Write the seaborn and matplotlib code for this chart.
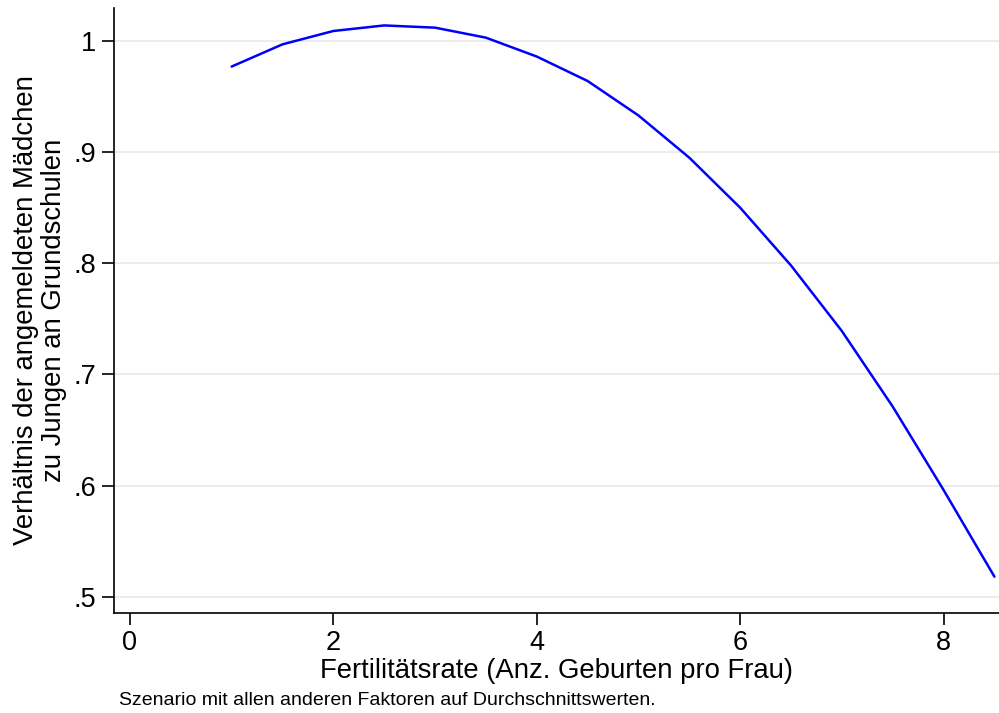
import matplotlib
matplotlib.use("Agg")
import matplotlib.pyplot as plt
import seaborn as sns
import pandas as pd

fertility = [1.0, 1.5, 2.0, 2.5, 3.0, 3.5, 4.0, 4.5, 5.0, 5.5, 6.0, 6.5, 7.0, 7.5, 8.0, 8.5]
ratio = [0.977, 0.997, 1.009, 1.014, 1.012, 1.003, 0.986, 0.964, 0.933, 0.895,
         0.850, 0.798, 0.739, 0.671, 0.596, 0.518]
x_ticks = [0, 2, 4, 6, 8]
y_ticks = [0.5, 0.6, 0.7, 0.8, 0.9, 1.0]
y_tick_labels = [".5", ".6", ".7", ".8", ".9", "1"]

sns.set_theme(style="white")
plt.rcParams['font.family'] = ['Liberation Sans', 'DejaVu Sans']

df = pd.DataFrame({"x": fertility, "y": ratio})

fig = plt.figure(figsize=(9.99, 7.13), dpi=100)
ax = fig.add_axes([0.1141, 0.1407, 0.8859, 0.8481])
sns.lineplot(data=df, x="x", y="y", ax=ax, color="#0000ff", linewidth=1.8)

ax.set_xlim(-0.157, 8.545)
ax.set_ylim(0.4856, 1.0297)
ax.set_xticks(x_ticks)
ax.set_xticklabels([str(t) for t in x_ticks])
ax.set_yticks(y_ticks)
ax.set_yticklabels(y_tick_labels)

ax.yaxis.grid(True, color="#eaeaea", linewidth=1.3)
ax.xaxis.grid(False)
for s in ["top", "right"]:
    ax.spines[s].set_visible(False)
for s in ["left", "bottom"]:
    ax.spines[s].set_color("black")
    ax.spines[s].set_linewidth(1.2)

ax.tick_params(axis="both", which="major", direction="out", length=8.5, width=1.2,
               color="black", labelsize=19.5, labelcolor="black", left=True, bottom=True, pad=4.3)

ax.set_xlabel("Fertilitätsrate (Anz. Geburten pro Frau)", fontsize=19.8, color="black", labelpad=1)
ax.set_ylabel("Verhältnis der angemeldeten Mädchen\nzu Jungen an Grundschulen", fontsize=19.8,
              color="black", labelpad=5, linespacing=1.1)

fig.text(0.119, 0.006, "Szenario mit allen anderen Faktoren auf Durchschnittswerten.",
         fontsize=14, color="black", ha="left", va="bottom")

fig.savefig("out.png", dpi=100)
